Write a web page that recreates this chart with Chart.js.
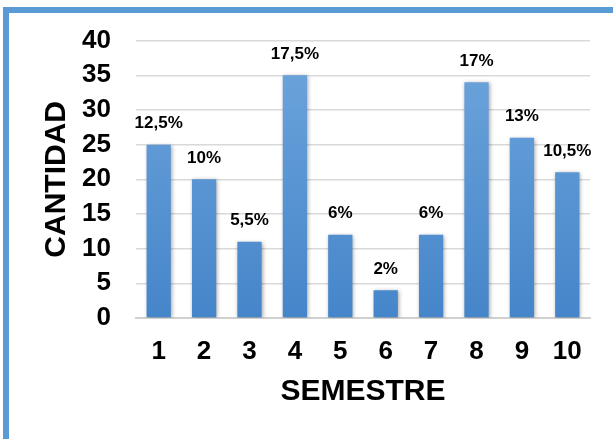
<!DOCTYPE html>
<html>
<head>
<meta charset="utf-8">
<script src="https://cdn.jsdelivr.net/npm/chart.js@4.4.0/dist/chart.umd.min.js"></script>
<style>
  html, body { margin: 0; padding: 0; background: #fff; overflow: hidden; }
  #wrap { position: relative; width: 613px; height: 439px; }
  #frame { position: absolute; left: 3px; top: 7px; width: 700px; height: 500px;
           border-top: 6px solid #5b9bd5; border-left: 6px solid #5b9bd5; }
  canvas { position: absolute; left: 0; top: 0; }
</style>
</head>
<body>
<div id="wrap">
  <div id="frame"></div>
  <canvas id="chart" width="613" height="439"></canvas>
</div>
<script>
// Data
const semesters = ['1', '2', '3', '4', '5', '6', '7', '8', '9', '10'];
const counts = [25, 20, 11, 35, 12, 4, 12, 34, 26, 21];
const percentLabels = ['12,5%', '10%', '5,5%', '17,5%', '6%', '2%', '6%', '17%', '13%', '10,5%'];
const yTicks = [0, 5, 10, 15, 20, 25, 30, 35, 40];

const FONT = 'Arial, "Liberation Sans", sans-serif';

// bar gradient, lighter on top
function barFill(ctx) {
  const area = ctx.chart.chartArea;
  if (!area) return '#5b9bd5';
  const g = ctx.chart.ctx.createLinearGradient(0, area.top, 0, area.bottom);
  g.addColorStop(0, '#6fa6dd');
  g.addColorStop(1, '#4585c9');
  return g;
}

// soft shadow behind bars
const barShadow = {
  id: 'barShadow',
  beforeDatasetsDraw(chart) {
    const c = chart.ctx;
    c.save();
    c.shadowColor = 'rgba(0,0,0,0.35)';
    c.shadowBlur = 4;
    c.shadowOffsetX = 1;
    c.shadowOffsetY = 1;
  },
  afterDatasetsDraw(chart) {
    chart.ctx.restore();
  }
};

// percent labels above bars
const pctLabels = {
  id: 'pctLabels',
  afterDraw(chart) {
    const c = chart.ctx;
    const meta = chart.getDatasetMeta(0);
    c.save();
    c.font = 'bold 17px ' + FONT;
    c.fillStyle = '#000';
    c.textAlign = 'center';
    c.textBaseline = 'middle';
    meta.data.forEach((bar, i) => {
      c.fillText(percentLabels[i], bar.x, bar.y - 21);
    });
    c.restore();
  }
};

new Chart(document.getElementById('chart'), {
  type: 'bar',
  data: {
    labels: semesters,
    datasets: [{
      data: counts,
      backgroundColor: barFill,
      borderWidth: 0,
      barPercentage: 0.535,
      categoryPercentage: 1.0
    }]
  },
  options: {
    responsive: false,
    animation: false,
    layout: { padding: { left: 35, right: 23, top: 39, bottom: 0 } },
    plugins: { legend: { display: false }, tooltip: { enabled: false } },
    scales: {
      x: {
        grid: { display: false, drawTicks: false },
        border: { display: true, color: '#d0d0d0', width: 2 },
        ticks: { color: '#000', font: { family: FONT, size: 26, weight: 'bold' }, padding: 18, maxRotation: 0 },
        title: { display: true, text: 'SEMESTRE', color: '#000',
                 font: { family: FONT, size: 30, weight: 'bold' }, padding: { top: 0, bottom: 29 } },
        afterFit(s) { s.height = 121; }
      },
      y: {
        min: 0, max: 40,
        afterBuildTicks(s) { s.ticks = yTicks.map(v => ({ value: v })); },
        grid: { color: '#d9d9d9', lineWidth: 1.5, drawTicks: false },
        border: { display: false },
        ticks: { color: '#000', font: { family: FONT, size: 26, weight: 'bold' }, padding: 25 },
        title: { display: true, text: 'CANTIDAD', color: '#000',
                 font: { family: FONT, size: 30, weight: 'bold' }, padding: { top: 4, bottom: 0 } },
        afterFit(s) { s.width = 101; }
      }
    }
  },
  plugins: [barShadow, pctLabels]
});
</script>
</body>
</html>
